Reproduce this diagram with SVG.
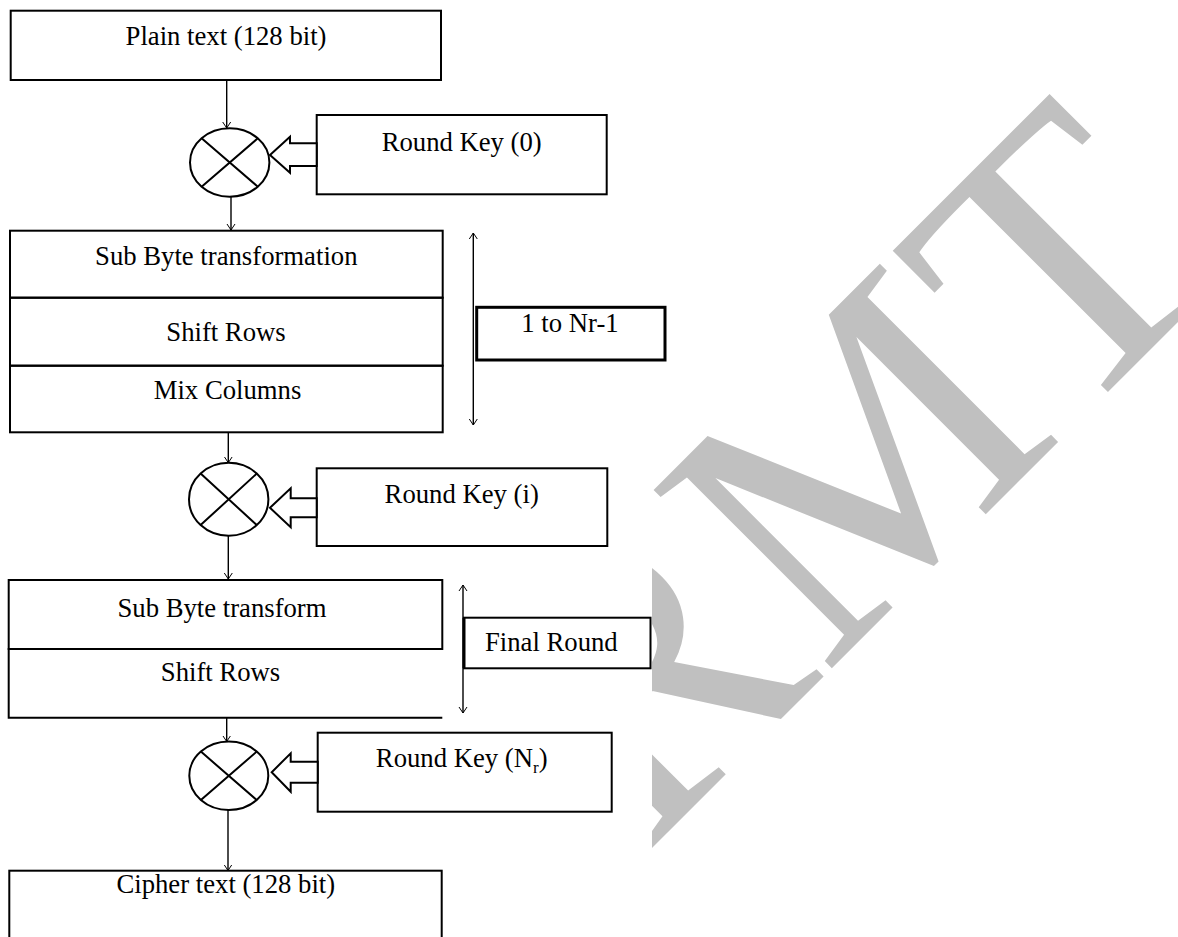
<svg xmlns="http://www.w3.org/2000/svg" width="1178" height="937" viewBox="0 0 1178 937">
<defs>
<style>
.box{fill:none;stroke:#000;stroke-width:2}
.t{font-family:"Liberation Serif","Times New Roman",serif;font-size:26.7px;fill:#000}
.xor{fill:none;stroke:#000;stroke-width:2}
.conn{stroke:#000;stroke-width:1.4;fill:none}
.barrow{fill:#fff;stroke:#000;stroke-width:2;stroke-linejoin:miter}
.wm{font-family:"Liberation Serif","Times New Roman",serif;font-size:385px;fill:#c0c0c0}
</style>
<marker id="ah" markerUnits="userSpaceOnUse" markerWidth="10" markerHeight="10" refX="6" refY="4" orient="auto-start-reverse" viewBox="0 0 10 8"><path d="M0,0 L6,4 L0,8" fill="none" stroke="#000" stroke-width="1"/></marker>
<clipPath id="wmclip"><rect x="652" y="0" width="526" height="937"/></clipPath>
</defs>
<rect width="1178" height="937" fill="#fff"/>
<g id="watermark" clip-path="url(#wmclip)"><text class="wm" transform="translate(824,676) rotate(-45)" x="-256.8">RMT</text></g>

<g id="plain">
<rect class="box" x="10.7" y="10.7" width="430.3" height="69.3"/>
<text class="t" x="226" y="45" text-anchor="middle">Plain text (128 bit)</text>
</g>

<g id="xor0">
<ellipse class="xor" cx="229.7" cy="162.5" rx="39.7" ry="34.2"/>
<path class="xor" d="M201.6,138.3 L257.8,186.7 M257.8,138.3 L201.6,186.7"/>
</g>
<g id="key0">
<rect class="box" x="316.7" y="115" width="290" height="79.3"/>
<polygon class="barrow" points="316.7,143.3 290,143.3 290,136.7 270,155 290,172.7 290,166 316.7,166"/>
<text class="t" x="461.7" y="151" text-anchor="middle">Round Key (0)</text>
</g>

<g id="round">
<rect class="box" x="10" y="230.7" width="432.7" height="67"/>
<rect class="box" x="10" y="297.7" width="432.7" height="68"/>
<rect class="box" x="10" y="365.7" width="432.7" height="66.6"/>
<text class="t" x="226.3" y="265" text-anchor="middle">Sub Byte transformation</text>
<text class="t" x="226" y="340.5" text-anchor="middle">Shift Rows</text>
<text class="t" x="227.5" y="399" text-anchor="middle">Mix Columns</text>
</g>

<g id="range1">
<rect class="box" x="476.7" y="307.3" width="188.3" height="52.7" style="stroke-width:3"/>
<text class="t" x="570" y="332" text-anchor="middle">1 to Nr-1</text>
</g>

<g id="xori">
<ellipse class="xor" cx="228.7" cy="499.3" rx="39.7" ry="36.5"/>
<path class="xor" d="M200.6,473.5 L256.8,525.1 M256.8,473.5 L200.6,525.1"/>
</g>
<g id="keyi">
<rect class="box" x="316.7" y="468.3" width="290.6" height="77.7"/>
<polygon class="barrow" points="316.7,498.3 290.7,498.3 290.7,488.3 270,507.8 290.7,527.3 290.7,517.3 316.7,517.3"/>
<text class="t" x="461.7" y="503" text-anchor="middle">Round Key (i)</text>
</g>

<g id="final">
<rect class="box" x="8.7" y="580" width="433.6" height="69"/>
<path class="box" d="M442.3,649 L8.7,649 L8.7,717.7 L442.3,717.7"/>
<text class="t" x="222" y="617" text-anchor="middle">Sub Byte transform</text>
<text class="t" x="220.5" y="681" text-anchor="middle">Shift Rows</text>
</g>

<g id="range2">
<rect class="box" x="464" y="617.7" width="186.5" height="50.6"/>
<line x1="464" y1="617.7" x2="464" y2="668.3" stroke="#000" stroke-width="3"/>
<text class="t" x="485" y="650.5">Final Round</text>
</g>

<g id="xorN">
<ellipse class="xor" cx="228.8" cy="775.8" rx="39.5" ry="34.2"/>
<path class="xor" d="M200.9,751.6 L256.7,800 M256.7,751.6 L200.9,800"/>
</g>
<g id="keyN">
<rect class="box" x="317.7" y="732.7" width="294" height="79"/>
<polygon class="barrow" points="317.7,761.7 290.7,761.7 290.7,753.3 271.7,772.2 290.7,791.7 290.7,782.7 317.7,782.7"/>
<text class="t" x="461.7" y="767" text-anchor="middle">Round Key (N<tspan font-size="17" dy="6">r</tspan><tspan dy="-6">)</tspan></text>
</g>

<g id="cipher">
<rect class="box" x="9.3" y="870.7" width="432.4" height="90"/>
<text class="t" x="225.8" y="893" text-anchor="middle">Cipher text (128 bit)</text>
</g>

<g id="connectors">
<line class="conn" x1="226.7" y1="80" x2="226.7" y2="128" marker-end="url(#ah)"/>
<line class="conn" x1="231" y1="196.7" x2="231" y2="230" marker-end="url(#ah)"/>
<line class="conn" x1="228.3" y1="432.3" x2="228.3" y2="462.7" marker-end="url(#ah)"/>
<line class="conn" x1="228.3" y1="536" x2="228.3" y2="579" marker-end="url(#ah)"/>
<line class="conn" x1="226.7" y1="717.7" x2="226.7" y2="741.5" marker-end="url(#ah)"/>
<line class="conn" x1="228" y1="810" x2="228" y2="870.5" marker-end="url(#ah)"/>
<line class="conn" x1="473.3" y1="233" x2="473.3" y2="425" marker-start="url(#ah)" marker-end="url(#ah)"/>
<line class="conn" x1="463" y1="585" x2="463" y2="713" marker-start="url(#ah)" marker-end="url(#ah)"/>
</g>
</svg>
